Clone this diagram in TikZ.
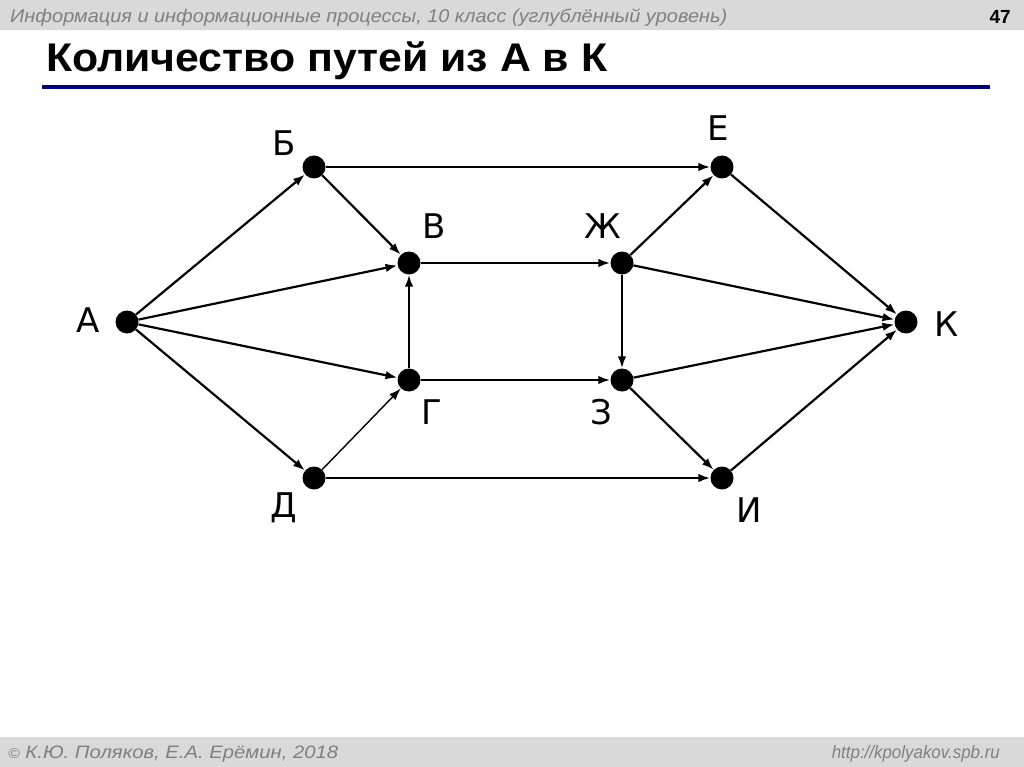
\documentclass[tikz,border=0pt]{standalone}
\usepackage{fontspec}
\setmainfont{Liberation Sans}
\newfontfamily\dv{DejaVu Sans}
\usetikzlibrary{arrows.meta}
\definecolor{bandgray}{HTML}{D9D9D9}
\definecolor{txtgray}{HTML}{808080}
\definecolor{navy}{HTML}{000080}
\newsavebox\fitbox
\newcommand\fitx[2]{\sbox\fitbox{#2}\resizebox{#1}{\ht\fitbox}{\usebox\fitbox}}
\begin{document}
\begin{tikzpicture}[x=1pt,y=-1pt,
  dot/.style={circle,fill=black,inner sep=0pt,minimum size=23pt},
  lbl/.style={font=\dv\fontsize{34}{34}\selectfont,inner sep=0pt},
  edge/.style={line width=2.2pt,-{Latex[length=12pt,width=8.5pt]}},
  thinedge/.style={line width=1.4pt,-{Latex[length=12pt,width=8.5pt]}}]
\useasboundingbox (0,0) rectangle (1024,767);
\fill[white] (0,0) rectangle (1024,767);
% bands
\fill[bandgray] (0,0) rectangle (1024,30);
\fill[bandgray] (0,737) rectangle (1024,767);
\node[anchor=base west,inner sep=0pt,text=txtgray,font=\itshape\fontsize{18.5}{18.5}\selectfont] (hdr) at (10,23) {\fitx{717pt}{Информация и информационные процессы, 10 класс (углублённый уровень)}};
\node[anchor=base east,inner sep=0pt,font=\bfseries\fontsize{19}{19}\selectfont] (pg) at (1011,24) {47};
\node[anchor=base west,inner sep=0pt,font=\bfseries\fontsize{40}{40}\selectfont] (title) at (46,72) {\fitx{561pt}{Количество путей из А в К}};
\fill[navy] (42,85) rectangle (990,89);
\node[anchor=base west,inner sep=0pt,text=txtgray,font=\itshape\fontsize{18}{18}\selectfont] (ftl) at (8,758) {\fitx{330pt}{{\fontsize{14}{14}\selectfont©} К.Ю. Поляков, Е.А. Ерёмин, 2018}};
\node[anchor=base east,inner sep=0pt,text=txtgray,font=\itshape\fontsize{18}{18}\selectfont] (ftr) at (1000,758) {\fitx{168pt}{http://kpolyakov.spb.ru}};
% graph nodes
\node[dot] (A) at (127,322) {};
\node[dot] (B) at (314,167) {};
\node[dot] (V) at (409,263) {};
\node[dot] (G) at (409,380) {};
\node[dot] (D) at (314,478) {};
\node[dot] (E) at (722,167) {};
\node[dot] (Zh) at (622,263) {};
\node[dot] (Z) at (622,380) {};
\node[dot] (I) at (722,478) {};
\node[dot] (K) at (906,322) {};
% labels
\node[lbl] (lA) at (88,320) {А};
\node[lbl] (lB) at (284,143) {Б};
\node[lbl] (lV) at (434,226) {В};
\node[lbl] (lG) at (432,412) {Г};
\node[lbl] (lD) at (284,508) {Д};
\node[lbl] (lE) at (718,128) {Е};
\node[lbl] (lZh) at (603,226) {Ж};
\node[lbl] (lZ) at (601,412) {З};
\node[lbl] (lI) at (749,510) {И};
\node[lbl] (lK) at (947,324) {К};
% edges
\draw[edge] (A) -- (B);
\draw[edge] (A) -- (V);
\draw[edge] (A) -- (G);
\draw[edge] (A) -- (D);
\draw[edge] (B) -- (V);
\draw[edge] (B) -- (E);
\draw[edge] (V) -- (Zh);
\draw[edge] (G) -- (V);
\draw[edge] (G) -- (Z);
\draw[thinedge] (D) -- (G);
\draw[edge] (D) -- (I);
\draw[edge] (Zh) -- (E);
\draw[edge] (Zh) -- (K);
\draw[edge] (Zh) -- (Z);
\draw[edge] (Z) -- (K);
\draw[edge] (Z) -- (I);
\draw[edge] (E) -- (K);
\draw[edge] (I) -- (K);
\end{tikzpicture}
\end{document}
